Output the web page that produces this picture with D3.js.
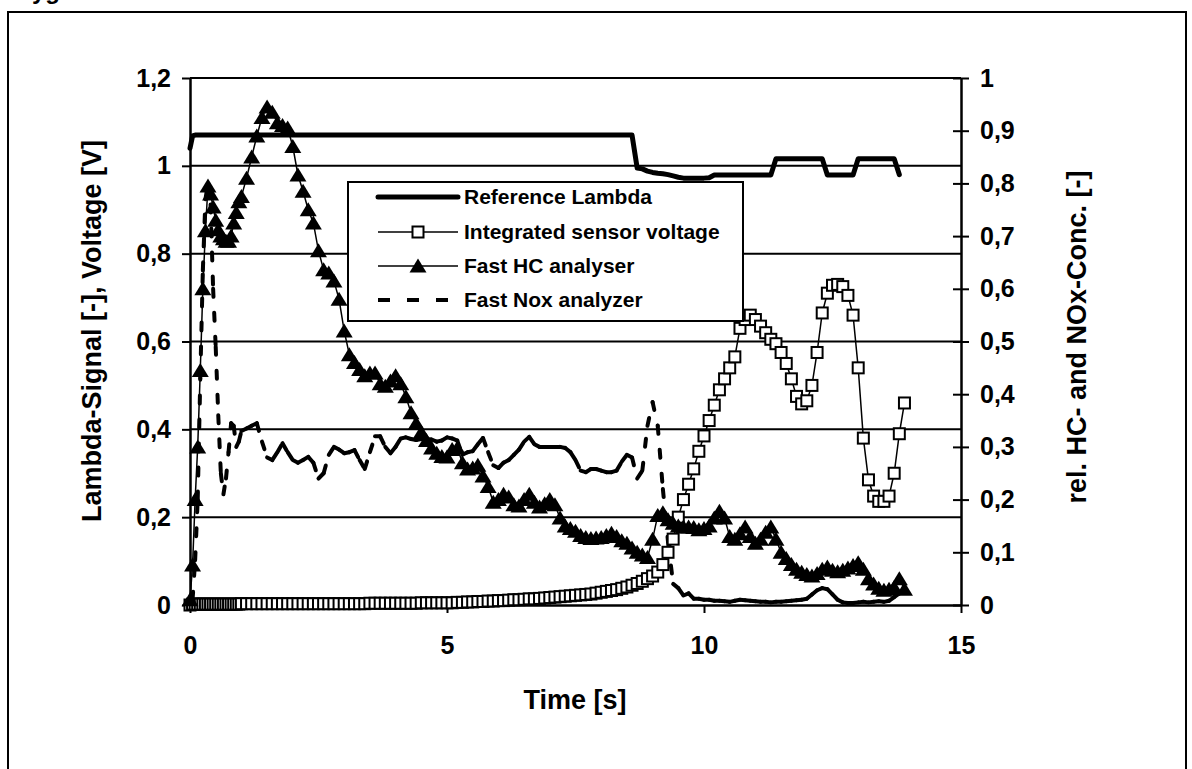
<!DOCTYPE html>
<html>
<head>
<meta charset="utf-8">
<script src="https://cdn.jsdelivr.net/npm/d3@7"></script>
<style>
  html, body { margin: 0; padding: 0; background: #fff; }
  svg { display: block; }
  text { font-family: "Liberation Sans", Arial, Helvetica, sans-serif; font-weight: bold; fill: #000; }
</style>
</head>
<body>
<svg id="chart" width="1192" height="769"></svg>
<script>
// ---- sampling base: 20 Hz during the first second, 10 Hz afterwards ----
const earlyTime = d3.range(0, 20).map(i => +(i * 0.05).toFixed(2));
const laterTime = d3.range(10, 140).map(i => +(i / 10).toFixed(1));
const time = earlyTime.concat(laterTime);

// ---- Reference Lambda (left axis) ----
const lambdaRef = [
  1.040, 1.068, 1.070, 1.070, 1.070, 1.070, 1.070, 1.070, 1.070, 1.070,
  1.070, 1.070, 1.070, 1.070, 1.070, 1.070, 1.070, 1.070, 1.070, 1.070,
  1.070, 1.070, 1.070, 1.070, 1.070, 1.070, 1.070, 1.070, 1.070, 1.070,
  1.070, 1.070, 1.070, 1.070, 1.070, 1.070, 1.070, 1.070, 1.070, 1.070,
  1.070, 1.070, 1.070, 1.070, 1.070, 1.070, 1.070, 1.070, 1.070, 1.070,
  1.070, 1.070, 1.070, 1.070, 1.070, 1.070, 1.070, 1.070, 1.070, 1.070,
  1.070, 1.070, 1.070, 1.070, 1.070, 1.070, 1.070, 1.070, 1.070, 1.070,
  1.070, 1.070, 1.070, 1.070, 1.070, 1.070, 1.070, 1.070, 1.070, 1.070,
  1.070, 1.070, 1.070, 1.070, 1.070, 1.070, 1.070, 1.070, 1.070, 1.070,
  1.070, 1.070, 1.070, 1.070, 1.070, 1.070, 1.070, 0.995, 0.993, 0.988,
  0.985, 0.983, 0.982, 0.980, 0.977, 0.974, 0.972, 0.972, 0.972, 0.972,
  0.972, 0.973, 0.979, 0.979, 0.979, 0.979, 0.979, 0.979, 0.979, 0.979,
  0.979, 0.979, 0.979, 0.979, 1.016, 1.016, 1.016, 1.016, 1.016, 1.016,
  1.016, 1.016, 1.016, 1.016, 0.979, 0.979, 0.979, 0.979, 0.979, 0.979,
  1.016, 1.016, 1.016, 1.016, 1.016, 1.016, 1.016, 1.016, 0.980, null
];

// ---- Integrated sensor voltage (left axis) ----
const sensorVoltage = [
  0.000, 0.002, 0.002, 0.002, 0.002, 0.002, 0.002, 0.002, 0.002, 0.002,
  0.002, 0.002, 0.002, 0.002, 0.002, 0.002, 0.002, 0.002, 0.002, 0.002,
  0.003, 0.003, 0.003, 0.003, 0.003, 0.003, 0.003, 0.003, 0.003, 0.003,
  0.003, 0.003, 0.003, 0.003, 0.003, 0.003, 0.003, 0.003, 0.003, 0.003,
  0.003, 0.003, 0.003, 0.003, 0.003, 0.004, 0.004, 0.004, 0.004, 0.004,
  0.004, 0.004, 0.004, 0.004, 0.004, 0.005, 0.005, 0.005, 0.005, 0.005,
  0.005, 0.005, 0.006, 0.006, 0.007, 0.007, 0.008, 0.008, 0.009, 0.009,
  0.010, 0.010, 0.011, 0.012, 0.012, 0.013, 0.014, 0.014, 0.015, 0.016,
  0.017, 0.018, 0.019, 0.020, 0.021, 0.022, 0.023, 0.024, 0.025, 0.027,
  0.029, 0.031, 0.033, 0.035, 0.038, 0.041, 0.045, 0.049, 0.054, 0.060,
  0.066, 0.075, 0.092, 0.120, 0.150, 0.200, 0.240, 0.275, 0.310, 0.350,
  0.385, 0.420, 0.455, 0.490, 0.515, 0.540, 0.565, 0.630, 0.650, 0.660,
  0.650, 0.635, 0.620, 0.605, 0.595, 0.575, 0.550, 0.515, 0.475, 0.458,
  0.465, 0.500, 0.575, 0.665, 0.710, 0.728, 0.730, 0.725, 0.705, 0.660,
  0.540, 0.380, 0.285, 0.248, 0.236, 0.236, 0.248, 0.300, 0.390, 0.460
];

// ---- Fast HC analyser (right axis) ----
const hcConc = [
  0.010, 0.076, 0.200, 0.300, 0.445, 0.600, 0.710, 0.795, 0.780, 0.755,
  0.730, 0.712, 0.700, 0.695, 0.690, 0.690, 0.700, 0.725, 0.745, 0.765,
  0.775, 0.810, 0.850, 0.890, 0.925, 0.945, 0.935, 0.915, 0.910, 0.905,
  0.870, 0.816, 0.785, 0.750, 0.725, 0.672, 0.636, 0.630, 0.615, 0.580,
  0.520, 0.475, 0.460, 0.447, 0.435, 0.440, 0.440, 0.420, 0.415, 0.425,
  0.435, 0.420, 0.395, 0.365, 0.345, 0.328, 0.312, 0.298, 0.288, 0.282,
  0.281, 0.295, 0.298, 0.270, 0.258, 0.260, 0.265, 0.245, 0.225, 0.195,
  0.200, 0.210, 0.205, 0.190, 0.188, 0.200, 0.210, 0.195, 0.186, 0.192,
  0.200, 0.190, 0.165, 0.150, 0.145, 0.140, 0.132, 0.128, 0.126, 0.127,
  0.128, 0.132, 0.136, 0.130, 0.122, 0.117, 0.108, 0.100, 0.095, 0.090,
  0.125, 0.170, 0.175, 0.162, 0.155, 0.150, 0.148, 0.148, 0.147, 0.143,
  0.145, 0.150, 0.165, 0.178, 0.165, 0.130, 0.125, 0.135, 0.148, 0.130,
  0.117, 0.125, 0.138, 0.148, 0.125, 0.100, 0.088, 0.077, 0.068, 0.062,
  0.058, 0.055, 0.060, 0.068, 0.072, 0.066, 0.063, 0.066, 0.070, 0.075,
  0.080, 0.068, 0.050, 0.040, 0.032, 0.028, 0.030, 0.033, 0.050, 0.030
];

// ---- Fast NOx analyzer (right axis) ----
const noxConc = [
  0.000, 0.010, 0.085, 0.200, 0.430, 0.635, 0.770, 0.800, 0.760, 0.600,
  0.490, 0.360, 0.250, 0.210, 0.240, 0.290, 0.345, 0.340, 0.300, 0.310,
  0.330, 0.335, 0.340, 0.345, 0.310, 0.280, 0.275, 0.290, 0.307, 0.290,
  0.275, 0.270, 0.275, 0.281, 0.270, 0.240, 0.250, 0.285, 0.300, 0.295,
  0.288, 0.290, 0.294, 0.275, 0.258, 0.290, 0.320, 0.320, 0.300, 0.288,
  0.300, 0.316, 0.318, 0.315, 0.313, 0.315, 0.315, 0.314, 0.310, 0.312,
  0.318, 0.316, 0.312, 0.285, 0.290, 0.292, 0.305, 0.317, 0.290, 0.265,
  0.260, 0.270, 0.275, 0.285, 0.295, 0.310, 0.319, 0.305, 0.300, 0.300,
  0.300, 0.300, 0.300, 0.298, 0.290, 0.275, 0.255, 0.252, 0.258, 0.258,
  0.255, 0.252, 0.252, 0.255, 0.272, 0.285, 0.280, 0.240, 0.255, 0.340,
  0.385, 0.340, 0.220, 0.120, 0.040, 0.032, 0.018, 0.022, 0.012, 0.012,
  0.010, 0.010, 0.008, 0.008, 0.007, 0.006, 0.008, 0.010, 0.009, 0.008,
  0.007, 0.006, 0.006, 0.005, 0.006, 0.006, 0.007, 0.008, 0.009, 0.010,
  0.012, 0.020, 0.028, 0.032, 0.030, 0.020, 0.010, 0.005, 0.004, 0.004,
  0.005, 0.006, 0.005, 0.006, 0.007, 0.006, 0.008, 0.015, 0.022, 0.030
];

// ---- axes and labels ----
const xTicks = [0, 5, 10, 15];
const leftTicks = [0, 0.2, 0.4, 0.6, 0.8, 1, 1.2];
const rightTicks = [0, 0.1, 0.2, 0.3, 0.4, 0.5, 0.6, 0.7, 0.8, 0.9, 1];
const xTitle = "Time [s]";
const leftTitle = "Lambda-Signal [-], Voltage [V]";
const rightTitle = "rel. HC- and NOx-Conc. [-]";
const seriesNames = ["Reference Lambda", "Integrated sensor voltage", "Fast HC analyser", "Fast Nox analyzer"];

// ---- geometry ----
const plot = { left: 190, right: 961, top: 78, bottom: 605 };
const svg = d3.select("#chart");
const commaFmt = d => String(d).replace(".", ",");

const x = d3.scaleLinear().domain([0, 15]).range([plot.left, plot.right]);
const yL = d3.scaleLinear().domain([0, 1.2]).range([plot.bottom, plot.top]);
const yR = d3.scaleLinear().domain([0, 1]).range([plot.bottom, plot.top]);

// outer frame and the caption running off the top edge
svg.append("rect").attr("x", 8).attr("y", 12).attr("width", 1178).attr("height", 800)
  .attr("fill", "none").attr("stroke", "#000").attr("stroke-width", 2);
svg.append("text").attr("x", 0).attr("y", -1).attr("font-size", 24).text("Oxygen");

// horizontal gridlines
svg.append("g").selectAll("line").data(leftTicks.filter(d => d > 0)).join("line")
  .attr("x1", plot.left).attr("x2", plot.right)
  .attr("y1", d => yL(d)).attr("y2", d => yL(d))
  .attr("stroke", "#000").attr("stroke-width", 2);

// left axis
const gLeft = svg.append("g").attr("transform", `translate(${plot.left},0)`)
  .call(d3.axisLeft(yL).tickValues(leftTicks).tickFormat(commaFmt).tickSize(8).tickSizeOuter(0).tickPadding(11));
// right axis, ticks crossing the axis line
const gRight = svg.append("g").attr("transform", `translate(${plot.right},0)`)
  .call(d3.axisRight(yR).tickValues(rightTicks).tickFormat(commaFmt).tickSize(8).tickSizeOuter(0).tickPadding(11));
gRight.selectAll(".tick line").attr("x1", -8).attr("x2", 8);
// bottom axis
const gBottom = svg.append("g").attr("transform", `translate(0,${plot.bottom})`)
  .call(d3.axisBottom(x).tickValues(xTicks).tickSize(8).tickSizeOuter(0).tickPadding(23));

[gLeft, gRight, gBottom].forEach(g => {
  g.select(".domain").attr("stroke", "#000").attr("stroke-width", 2.5);
  g.selectAll(".tick line").attr("stroke", "#000").attr("stroke-width", 2);
  g.selectAll(".tick text").attr("font-size", 25)
    .attr("font-family", '"Liberation Sans", Arial, sans-serif').attr("font-weight", "bold").attr("fill", "#000");
});

// axis titles
svg.append("text").attr("transform", "translate(101,331) rotate(-90)")
  .attr("text-anchor", "middle").attr("font-size", 27).text(leftTitle);
svg.append("text").attr("transform", "translate(1086,337) rotate(-90)")
  .attr("text-anchor", "middle").attr("font-size", 27).text(rightTitle);
svg.append("text").attr("x", 575).attr("y", 709)
  .attr("text-anchor", "middle").attr("font-size", 27).text(xTitle);

// ---- series ----
const rows = time.map((t, i) => ({
  t, lambda: lambdaRef[i], sensor: sensorVoltage[i], hc: hcConc[i], nox: noxConc[i]
}));

const dashPattern = "8,16";
const triPath = "M0,-7.5L8.5,6.5L-8.5,6.5Z";

// NOx: dash pattern restarts on every segment
const noxSeg = [];
for (let i = 1; i < rows.length; i++) {
  if (rows[i - 1].nox != null && rows[i].nox != null) noxSeg.push([rows[i - 1], rows[i]]);
}
svg.append("g").selectAll("line").data(noxSeg).join("line")
  .attr("x1", d => x(d[0].t)).attr("y1", d => yR(d[0].nox))
  .attr("x2", d => x(d[1].t)).attr("y2", d => yR(d[1].nox))
  .attr("stroke", "#000").attr("stroke-width", 4)
  .attr("stroke-linecap", "round").attr("stroke-dasharray", dashPattern);

// Reference lambda
svg.append("path").datum(rows)
  .attr("d", d3.line().defined(d => d.lambda != null).x(d => x(d.t)).y(d => yL(d.lambda)))
  .attr("fill", "none").attr("stroke", "#000").attr("stroke-width", 5)
  .attr("stroke-linejoin", "round").attr("stroke-linecap", "round");

// Integrated sensor voltage
svg.append("path").datum(rows)
  .attr("d", d3.line().defined(d => d.sensor != null).x(d => x(d.t)).y(d => yL(d.sensor)))
  .attr("fill", "none").attr("stroke", "#000").attr("stroke-width", 1.5);
svg.append("g").selectAll("rect").data(rows.filter(d => d.sensor != null)).join("rect")
  .attr("x", d => x(d.t) - 5.5).attr("y", d => yL(d.sensor) - 5.5)
  .attr("width", 11).attr("height", 11)
  .attr("fill", "#fff").attr("stroke", "#000").attr("stroke-width", 2);

// Fast HC analyser
svg.append("path").datum(rows)
  .attr("d", d3.line().defined(d => d.hc != null).x(d => x(d.t)).y(d => yR(d.hc)))
  .attr("fill", "none").attr("stroke", "#000").attr("stroke-width", 1.5);
svg.append("g").selectAll("path").data(rows.filter(d => d.hc != null)).join("path")
  .attr("d", triPath)
  .attr("transform", d => `translate(${x(d.t)},${yR(d.hc)})`)
  .attr("fill", "#000");

// ---- legend ----
const legend = svg.append("g");
legend.append("rect").attr("x", 348).attr("y", 182).attr("width", 395).attr("height", 139)
  .attr("fill", "#fff").attr("stroke", "#000").attr("stroke-width", 2);
const rowY = [197, 232, 266, 300];
const lx1 = 378, lx2 = 458, lmid = 418;
seriesNames.forEach((name, i) => {
  const y = rowY[i];
  const ln = legend.append("line").attr("x1", lx1).attr("x2", lx2).attr("y1", y).attr("y2", y)
    .attr("stroke", "#000");
  if (i === 0) ln.attr("stroke-width", 5).attr("stroke-linecap", "round");
  else if (i === 3) ln.attr("stroke-width", 4).attr("stroke-dasharray", "12,17");
  else ln.attr("stroke-width", 1.5);
  if (i === 1) legend.append("rect").attr("x", lmid - 5.5).attr("y", y - 5.5).attr("width", 11).attr("height", 11)
    .attr("fill", "#fff").attr("stroke", "#000").attr("stroke-width", 2);
  if (i === 2) legend.append("path").attr("d", triPath).attr("transform", `translate(${lmid},${y})`).attr("fill", "#000");
  legend.append("text").attr("x", 464).attr("y", y + 7).attr("font-size", 21).text(name);
});
</script>
</body>
</html>
